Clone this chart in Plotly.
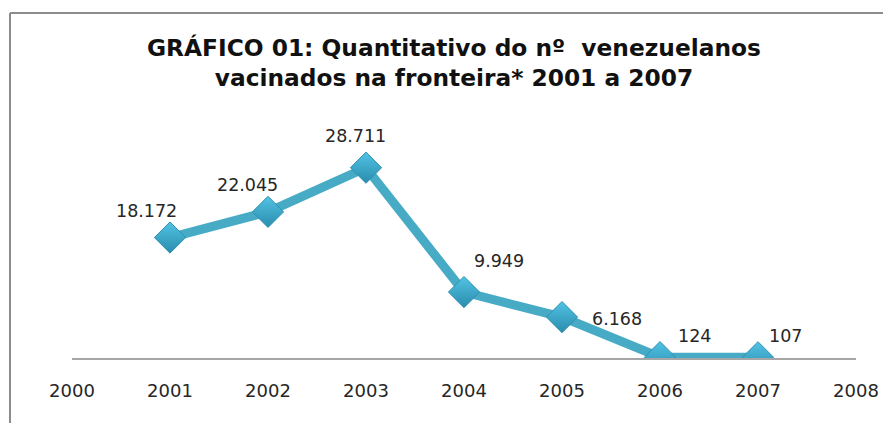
import plotly.graph_objects as go

years = [2001, 2002, 2003, 2004, 2005, 2006, 2007]
vacinados = [18172, 22045, 28711, 9949, 6168, 124, 107]
tick_years = [2000, 2001, 2002, 2003, 2004, 2005, 2006, 2007, 2008]
title_lines = ["GRÁFICO 01: Quantitativo do nº  venezuelanos",
               "vacinados na fronteira* 2001 a 2007"]

# label offsets (pixels) mimicking the original placement
label_dx = [-24, -21, -11, 35, 55, 34, 27]
label_dy = [27, 27, 32, 31, -2, 21, 21]

W, H = 883, 423
L, R, T, B = 72, 27, 125.5, 64.5
plot_w = W - L - R
plot_h = H - T - B

def fmt(v):
    return f"{v:,}".replace(",", ".")

fig = go.Figure()
fig.add_trace(go.Scatter(
    x=years, y=vacinados, mode="lines+markers",
    line=dict(color="#47ABC6", width=9),
    marker=dict(symbol="diamond", size=24, color="#52C3E4",
                gradient=dict(type="vertical", color="#2A8CAD"),
                line=dict(color="#2E90B0", width=1)),
    hoverinfo="skip", showlegend=False,
))

for x, v, dx, dy in zip(years, vacinados, label_dx, label_dy):
    fig.add_annotation(x=x, y=v, xref="x", yref="y", text=fmt(v),
                       showarrow=False, xshift=dx, yshift=dy,
                       font=dict(family="DejaVu Sans", size=17.5, color="#262626"))

fig.add_annotation(xref="paper", yref="paper",
                   x=(454 - L) / plot_w, y=(H - B - 62) / plot_h,
                   text="<b>" + "<br>".join(title_lines) + "</b>",
                   showarrow=False, xanchor="center", yanchor="middle",
                   font=dict(family="DejaVu Sans", size=23.3, color="#111111"))

# frame (left and top edges)
def px(xp):
    return (xp - L) / plot_w
def py(yp):
    return (H - B - yp) / plot_h

fig.add_shape(type="line", xref="paper", yref="paper",
              x0=px(10), x1=px(10), y0=py(12), y1=py(H + 5),
              line=dict(color="#8C8C8C", width=2))
fig.add_shape(type="line", xref="paper", yref="paper",
              x0=px(10), x1=px(W + 5), y0=py(12), y1=py(12),
              line=dict(color="#8C8C8C", width=2))

fig.update_layout(
    width=W, height=H,
    margin=dict(l=L, r=R, t=T, b=B, autoexpand=False),
    paper_bgcolor="white", plot_bgcolor="white",
    xaxis=dict(range=[tick_years[0], tick_years[-1]], tickvals=tick_years,
               ticktext=[str(t) for t in tick_years], automargin=False,
               showgrid=False, zeroline=False, showline=True,
               linecolor="#A6A6A6", linewidth=1.5,
               ticks="outside", ticklen=16, tickcolor="rgba(0,0,0,0)",
               tickfont=dict(family="DejaVu Sans", size=18, color="#262626")),
    yaxis=dict(range=[0, 35000], visible=False, automargin=False),
)

fig.write_html("out.html", config={"displayModeBar": False},
               post_script="document.body.style.margin='0';document.body.style.overflow='hidden';")
